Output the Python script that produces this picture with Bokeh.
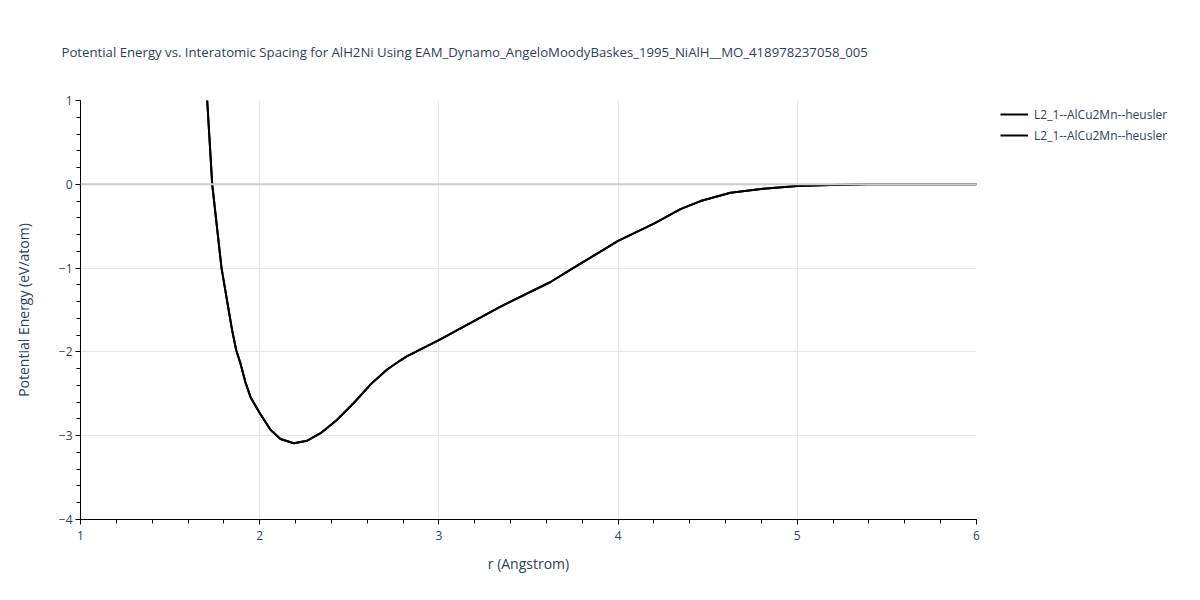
from bokeh.plotting import figure
from bokeh.layouts import row
from bokeh.models import (Range1d, SingleIntervalTicker, Legend, LegendItem, Span)
from bokeh.embed import file_html
from bokeh.resources import INLINE

title_text = "Potential Energy vs. Interatomic Spacing for AlH2Ni Using EAM_Dynamo_AngeloMoodyBaskes_1995_NiAlH__MO_418978237058_005"
series_name = "L2_1--AlCu2Mn--heusler"
x_label = "r (Angstrom)"
y_label = "Potential Energy (eV/atom)"

r_values = [1.70, 1.707, 1.735, 1.787, 1.846, 1.869, 1.893, 1.92, 1.949, 2.0, 2.06, 2.116, 2.19,
            2.265, 2.34, 2.432, 2.525, 2.618, 2.711, 2.786, 2.823, 2.953, 3.0, 3.344,
            3.623, 3.753, 4.0, 4.2, 4.348, 4.46, 4.627, 4.81, 5.0, 5.185, 5.39, 5.6, 6.0]
energy_values = [1.1, 1.0, 0.0, -1.0, -1.74, -1.98, -2.14, -2.36, -2.54, -2.73, -2.93, -3.04, -3.09,
                 -3.06, -2.97, -2.81, -2.61, -2.39, -2.21, -2.10, -2.05, -1.91, -1.86, -1.46,
                 -1.166, -0.995, -0.676, -0.47, -0.296, -0.20, -0.10, -0.052, -0.02, -0.008,
                 0.0, 0.0, 0.0]

x_ticks = [1, 2, 3, 4, 5, 6]
y_ticks = [1, 0, -1, -2, -3, -4]
y_tick_labels = ["1", "0", "\u22121", "\u22122", "\u22123", "\u22124"]

FONT = "Open Sans"
TXT = "#2a3f5f"

p = figure(width=986, height=584, output_backend="svg", toolbar_location=None,
           x_range=Range1d(1, 6), y_range=Range1d(-4, 1),
           min_border_left=80, min_border_right=10, min_border_top=100, min_border_bottom=65,
           title=title_text)
p.outline_line_color = None
p.background_fill_color = "white"
p.title.text_font = FONT
p.title.text_font_size = "13.2px"
p.title.text_color = TXT
p.title.text_font_style = "normal"
p.title.offset = -19
p.title.standoff = 79

for ax in (p.xaxis, p.yaxis):
    ax.ticker = SingleIntervalTicker(interval=1, num_minor_ticks=5)
    ax.axis_line_color = "black"
    ax.axis_line_width = 1
    ax.major_tick_line_color = "black"
    ax.minor_tick_line_color = "black"
    ax.major_tick_in = 0
    ax.major_tick_out = 5
    ax.minor_tick_in = 0
    ax.minor_tick_out = 4
    ax.major_label_text_font = FONT
    ax.major_label_text_font_size = "12px"
    ax.major_label_text_color = TXT
    ax.axis_label_text_font = FONT
    ax.axis_label_text_font_size = "14px"
    ax.axis_label_text_color = TXT
    ax.axis_label_text_font_style = "normal"

p.yaxis.major_label_overrides = {t: l for t, l in zip(y_ticks, y_tick_labels)}
p.xaxis.axis_label = x_label
p.yaxis.axis_label = y_label
p.xaxis.axis_label_standoff = 11
p.yaxis.axis_label_standoff = 23
p.xaxis.major_label_standoff = 6
p.yaxis.major_label_standoff = 3

p.xgrid.ticker = SingleIntervalTicker(interval=1)
p.ygrid.ticker = SingleIntervalTicker(interval=1)
p.xgrid.grid_line_color = "#e5e5e5"
p.ygrid.grid_line_color = "#e5e5e5"

p.add_layout(Span(location=0, dimension="width", line_color="#cccccc", line_width=2))

r1 = p.line(r_values, energy_values, line_color="black", line_width=2)
r2 = p.line(r_values, energy_values, line_color="black", line_width=2)

# legend panel (separate figure so the legend is not clipped by the plot frame);
# its proxy lines reuse the series data, which lies outside this panel's ranges
lp = figure(width=198, height=584, output_backend="svg", toolbar_location=None,
            x_axis_type=None, y_axis_type=None, x_range=Range1d(100, 101), y_range=Range1d(100, 101),
            min_border_left=0, min_border_right=0, min_border_top=0, min_border_bottom=0)
lp.outline_line_color = None
lp.xgrid.visible = False
lp.ygrid.visible = False
lr1 = lp.line(r_values, energy_values, line_color="black", line_width=2)
lr2 = lp.line(r_values, energy_values, line_color="black", line_width=2)

legend = Legend(items=[LegendItem(label=series_name, renderers=[lr1]),
                       LegendItem(label=series_name, renderers=[lr2])],
                location=(14, 374), padding=0, margin=0, spacing=1,
                label_height=20, glyph_height=20, glyph_width=28, label_standoff=6,
                label_text_font=FONT, label_text_font_size="12px", label_text_color=TXT,
                border_line_alpha=0, background_fill_alpha=0)
lp.add_layout(legend, "center")

layout = row(p, lp)
open("out.html", "w").write(file_html(layout, INLINE))
